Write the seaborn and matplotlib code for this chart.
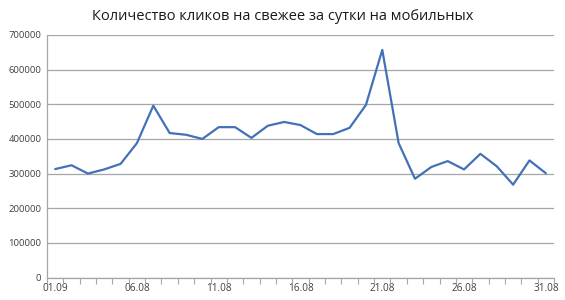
import matplotlib
matplotlib.use("Agg")
import matplotlib.pyplot as plt
import seaborn as sns
import pandas as pd
import numpy as np

title = "Количество кликов на свежее за сутки на мобильных"
days = list(range(1, 32))
clicks = [313000, 324000, 300000, 312000, 328000, 388000, 496000, 417000, 412000, 400000,
          434000, 434000, 403000, 438000, 449000, 440000, 414000, 414000, 432000, 498000,
          657000, 388000, 285000, 319000, 336000, 312000, 357000, 321000, 268000, 338000, 301000]
tick_labels = ["01.09", "06.08", "11.08", "16.08", "21.08", "26.08", "31.08"]
yticks = [0, 100000, 200000, 300000, 400000, 500000, 600000, 700000]

sns.set_theme(style="white")
plt.rcParams['font.family'] = ['Open Sans', 'DejaVu Sans']

df = pd.DataFrame({"idx": np.arange(len(days)), "clicks": clicks})

fig = plt.figure(figsize=(5.65, 3.0), dpi=100)
ax = fig.add_axes([47/565, 1 - 277.5/300, (554 - 47)/565, (277.5 - 35)/300])
sns.lineplot(data=df, x="idx", y="clicks", ax=ax, color="#4371B8", linewidth=1.6)

ax.set_xlim(-0.5, len(days) - 0.5)
ax.set_ylim(0, 700000)
ax.set_yticks(yticks)
ax.set_yticklabels([str(v) for v in yticks], fontsize=6.8, color="#404040")
ax.yaxis.grid(True, color="#A6A6A6", linewidth=0.9)
ax.set_axisbelow(True)

ax.set_xticks(np.arange(0, len(days), 5))
ax.set_xticklabels(tick_labels, fontsize=7.2, color="#404040")
ax.set_xticks(np.arange(-0.5, len(days), 1), minor=True)
ax.tick_params(axis="x", which="major", length=0, pad=4)
ax.tick_params(axis="x", which="minor", length=4, width=0.8, color="#A6A6A6", direction="out")
ax.tick_params(axis="y", length=0, pad=4)
ax.xaxis.set_tick_params(bottom=True, which="minor")

for s in ["top", "right"]:
    ax.spines[s].set_visible(False)
for s in ["left", "bottom"]:
    ax.spines[s].set_color("#A6A6A6")
    ax.spines[s].set_linewidth(0.9)

ax.set_xlabel("")
ax.set_ylabel("")
fig.text(283/565, 1 - 16/300, title, ha="center", va="center", fontsize=10.5, color="#1a1a1a")

fig.savefig("out.png", dpi=100, facecolor="white")
